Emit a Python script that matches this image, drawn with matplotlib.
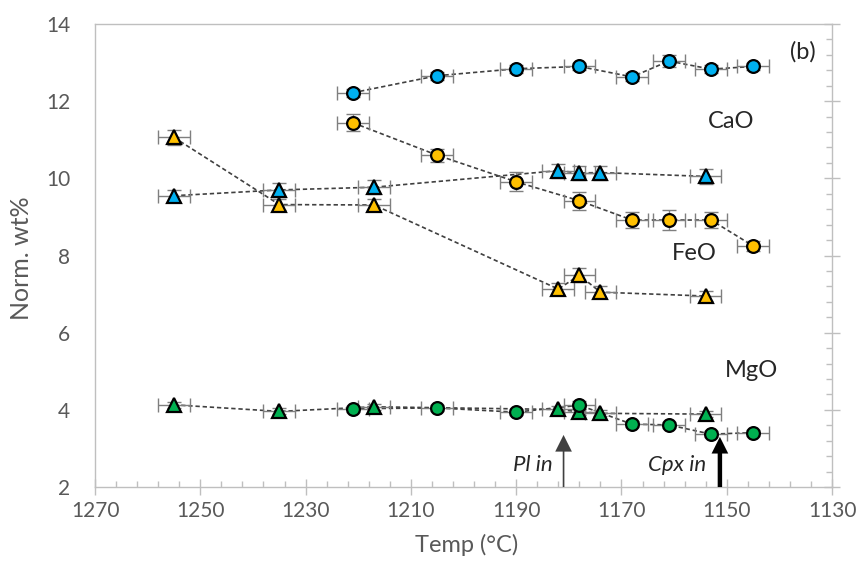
import matplotlib
matplotlib.use("Agg")
import matplotlib.pyplot as plt
from matplotlib.ticker import MultipleLocator

plt.rcParams['font.family'] = ['Lato', 'DejaVu Sans']

# temperatures (deg C)
temp_circ = [1221, 1205, 1190, 1178, 1168, 1161, 1153, 1145]
temp_tri = [1255, 1235, 1217, 1182, 1178, 1174, 1154]
temp_err = 3.0

# circles
cao_circ = [12.22, 12.66, 12.84, 12.90, 12.63, 13.04, 12.83, 12.90]
feo_circ = [11.44, 10.60, 9.91, 9.42, 8.92, 8.92, 8.92, 8.25]
mgo_circ = [4.03, 4.05, 3.94, 4.12, 3.63, 3.61, 3.37, 3.41]
cao_circ_err = [0.10, 0.10, 0.10, 0.10, 0.10, 0.15, 0.10, 0.10]
feo_circ_err = [0.22, 0.17, 0.25, 0.23, 0.21, 0.25, 0.21, 0.12]
mgo_circ_err = [0.08, 0.08, 0.08, 0.10, 0.08, 0.08, 0.08, 0.08]

# triangles
cao_tri = [9.55, 9.70, 9.77, 10.20, 10.14, 10.15, 10.05]
feo_tri = [11.06, 9.32, 9.31, 7.13, 7.49, 7.05, 6.95]
mgo_tri = [4.13, 3.96, 4.08, 4.01, 3.95, 3.91, 3.89]
cao_tri_err = [0.15, 0.18, 0.18, 0.18, 0.18, 0.18, 0.20]
feo_tri_err = [0.20, 0.15, 0.15, 0.15, 0.18, 0.15, 0.12]
mgo_tri_err = [0.08, 0.08, 0.08, 0.08, 0.08, 0.08, 0.08]

blue = '#00B0F0'
orange = '#FFC000'
green = '#00B050'
axis_grey = '#BFBFBF'
text_grey = '#595959'

fig = plt.figure(figsize=(8.64, 5.65), dpi=100)
ax = fig.add_axes([0.110, 0.138, 0.853, 0.8195])


def series(x, y, yerr, marker, color):
    ax.plot(x, y, ls=(0, (2.6, 1.7)), color='#404040', lw=1.2, zorder=2)
    ax.errorbar(x, y, xerr=temp_err, yerr=yerr, fmt='none', ecolor='#7F7F7F',
                elinewidth=1.0, capsize=4.7, capthick=1.0, zorder=3)
    ms = 9.2 if marker == 'o' else 9.8
    ax.plot(x, y, marker=marker, ls='none', ms=ms, mfc=color, mec='black',
            mew=1.6, zorder=4)


series(temp_circ, cao_circ, cao_circ_err, 'o', blue)
series(temp_tri, cao_tri, cao_tri_err, '^', blue)
series(temp_circ, feo_circ, feo_circ_err, 'o', orange)
series(temp_tri, feo_tri, feo_tri_err, '^', orange)
series(temp_tri, mgo_tri, mgo_tri_err, '^', green)
series(temp_circ, mgo_circ, mgo_circ_err, 'o', green)

# axes
ax.set_xlim(1270, 1130)
ax.set_ylim(2, 14)
ax.xaxis.set_major_locator(MultipleLocator(20, offset=10))
ax.xaxis.set_minor_locator(MultipleLocator(4, offset=2))
ax.yaxis.set_major_locator(MultipleLocator(2))
ax.yaxis.set_minor_locator(MultipleLocator(0.4))
for s in ax.spines.values():
    s.set_color(axis_grey)
    s.set_linewidth(1.0)
ax.tick_params(axis='x', which='major', direction='inout', length=12,
               width=1.0, color=axis_grey, labelcolor=text_grey,
               labelsize=15, pad=4)
ax.tick_params(axis='x', which='minor', direction='in', length=4,
               width=1.0, color=axis_grey)
ax.tick_params(axis='y', which='major', direction='inout', length=11.5,
               width=1.0, color=axis_grey, labelcolor=text_grey,
               labelsize=15, left=False, right=True, labelleft=True,
               pad=12)
ax.tick_params(axis='y', which='minor', direction='in', length=4,
               width=1.0, color=axis_grey, left=False, right=True)

fig.text(467 / 864, 1 - 545 / 565, 'Temp (°C)', ha='center', va='center',
         fontsize=17, color=text_grey)
fig.text(22 / 864, 1 - 258 / 565, 'Norm. wt%', ha='center', va='center',
         rotation=90, fontsize=18, color=text_grey)

# labels
lab = '#262626'
ax.text(1135.5, 13.28, '(b)', ha='center', va='center', fontsize=17, color=lab)
ax.text(1149.1, 11.47, 'CaO', ha='center', va='center', fontsize=17, color=lab)
ax.text(1156.2, 8.04, 'FeO', ha='center', va='center', fontsize=17, color=lab)
ax.text(1145.3, 5.03, 'MgO', ha='center', va='center', fontsize=17, color=lab)
ax.text(1186.9, 2.57, 'Pl in', ha='center', va='center', fontsize=16,
        style='italic', color=lab)
ax.text(1159.4, 2.57, 'Cpx in', ha='center', va='center', fontsize=16,
        style='italic', color=lab)

# phase-in arrows
ax.annotate('', xy=(1181, 3.35), xytext=(1181, 2.0),
            arrowprops=dict(arrowstyle='simple,head_length=12,head_width=12,tail_width=1.2',
                            mutation_scale=1, fc='#404040', ec='none',
                            shrinkA=0, shrinkB=0), zorder=5)
ax.annotate('', xy=(1151.3, 3.30), xytext=(1151.3, 2.0),
            arrowprops=dict(arrowstyle='simple,head_length=12,head_width=12,tail_width=3.2',
                            mutation_scale=1, fc='black', ec='none',
                            shrinkA=0, shrinkB=0), zorder=5)

fig.savefig('out.png', dpi=100)
